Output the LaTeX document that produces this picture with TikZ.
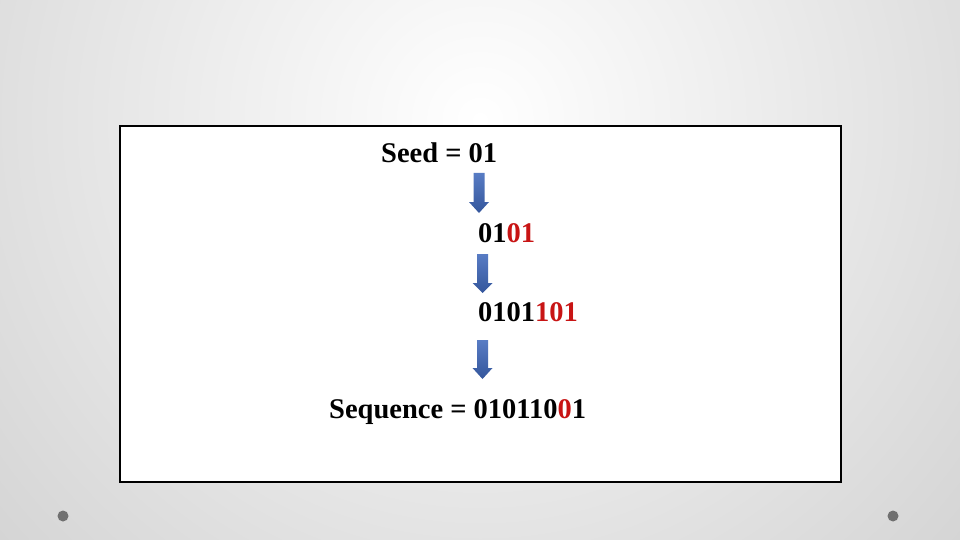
\documentclass[tikz,border=0pt]{standalone}
\usepackage{fontspec}
\setmainfont{Liberation Serif}
\begin{document}
\begin{tikzpicture}[x=1pt,y=-1pt,
  txt/.style={anchor=base west,inner sep=0pt,font=\fontsize{28.5}{32}\selectfont\bfseries},
  blockarr/.style={top color=arrtop,bottom color=arrbot,draw=none},
  dot/.style={fill=dotgray,draw=none}]
\definecolor{arrtop}{RGB}{88,124,196}
\definecolor{arrbot}{RGB}{52,86,156}
\definecolor{dotgray}{RGB}{112,112,112}
\definecolor{redtxt}{RGB}{200,20,20}
\definecolor{bggray}{RGB}{205,205,205}
\useasboundingbox (0,0) rectangle (960,540);
\begin{scope}
\clip (0,0) rectangle (960,540);
\shade[inner color=white,outer color=bggray] (480,120) circle (760);
\end{scope}
\fill[dot] (63,516) circle (5.5);
\fill[dot] (893,516) circle (5.5);
\draw[line width=2.5pt,fill=white] (120,126) rectangle (841,482);
\node[txt] (seed) at (381,163) {Seed = 01};
\node[txt] (s1) at (478,242) {01\textcolor{redtxt}{01}};
\node[txt] (s2) at (478,321) {0101\textcolor{redtxt}{101}};
\node[txt] (seq) at (329,418) {Sequence = 010110\textcolor{redtxt}{0}1};
% block arrows
\foreach \cx/\ya/\yh/\yt in {479/173/202/213, 482.5/254/283/293, 482.5/340/368/379}{
  \path[blockarr] (\cx-5.5,\ya) -- (\cx+5.5,\ya) -- (\cx+5.5,\yh) -- (\cx+10,\yh)
    -- (\cx,\yt) -- (\cx-10,\yh) -- (\cx-5.5,\yh) -- cycle;
}
\end{tikzpicture}
\end{document}
